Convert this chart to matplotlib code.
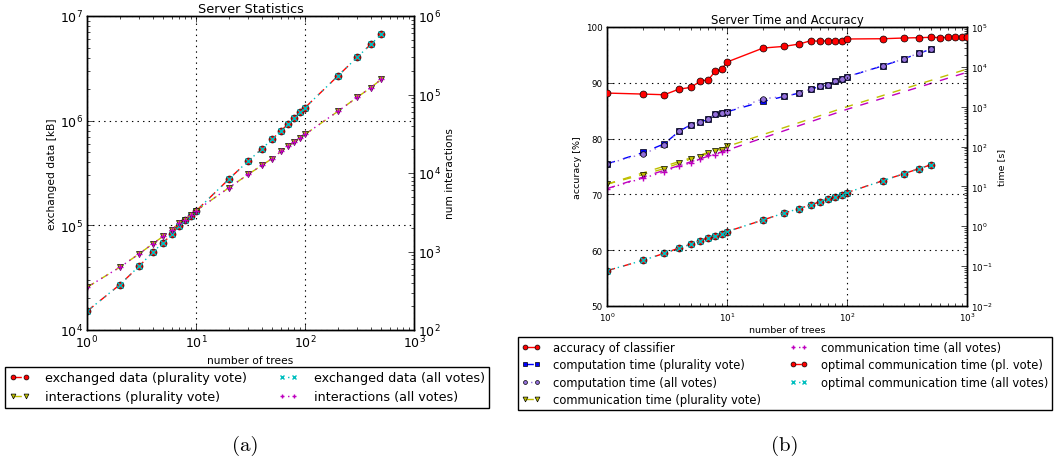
import matplotlib
matplotlib.use("Agg")
import matplotlib.pyplot as plt
from matplotlib.ticker import LogLocator, NullFormatter, FixedLocator

# ---- data: server statistics ----
trees = [1, 2, 3, 4, 5, 6, 7, 8, 9, 10, 20, 30, 40, 50, 60, 70, 80, 90, 100,
         200, 300, 400, 500]
exchanged_plurality = [1.51e4, 2.71e4, 4.06e4, 5.53e4, 6.84e4, 8.22e4, 9.96e4,
                       1.13e5, 1.24e5, 1.37e5, 2.76e5, 4.10e5, 5.35e5, 6.66e5,
                       8.00e5, 9.27e5, 1.065e6, 1.20e6, 1.33e6, 2.67e6, 4.02e6,
                       5.35e6, 6.67e6]
exchanged_all = [1.51e4, 2.71e4, 4.06e4, 5.53e4, 6.84e4, 8.22e4, 9.96e4,
                 1.13e5, 1.24e5, 1.37e5, 2.76e5, 4.10e5, 5.35e5, 6.66e5,
                 8.00e5, 9.27e5, 1.065e6, 1.20e6, 1.33e6, 2.67e6, 4.02e6,
                 5.35e6, 6.67e6]
interactions_plurality = [350, 630, 931, 1250, 1564, 1900, 2290, 2550, 2930,
                          3300, 6480, 9570, 12470, 15300, 18800, 21800, 24700,
                          27800, 31000, 60900, 91800, 122000, 155700]
interactions_all = [350, 630, 931, 1250, 1564, 1900, 2290, 2550, 2930,
                    3300, 6480, 9570, 12470, 15300, 18800, 21800, 24700,
                    27800, 31000, 60900, 91800, 122000, 155700]

# ---- data: server time and accuracy ----
acc_trees = trees + [600, 700, 800, 900, 1000]
accuracy = [88.16, 87.98, 87.86, 88.88, 89.17, 90.31, 90.55, 92.1, 92.4, 93.72,
            96.23, 96.53, 96.95, 97.55, 97.43, 97.55, 97.55, 97.43, 97.85,
            97.9, 98.03, 98.09, 98.15, 98.1, 98.13, 98.17, 98.13, 98.17]
comp_plurality = [36.8, 71, 117, 244, 352, 410, 488, 664, 690, 746, 1357, 1811,
                  2197, 2768, 3230, 3490, 4315, 4935, 5650, 10670, 16000,
                  22200, 27470]
comp_all = [36.8, 65.6, 108, 244, 352, 410, 488, 664, 690, 746, 1580, 1811,
            2197, 2768, 3230, 3490, 4315, 4935, 5650, 10670, 16000, 22200,
            27470]
comm_trees = trees[:10]
comm_plurality = [11.4, 19.9, 28.1, 38.3, 49.2, 56.3, 69.6, 78.2, 84.4, 100.5]
comm_all = [8.8, 16.1, 23.2, 33.4, 38.3, 49.2, 62, 62, 72.3, 81.3]
trend_trees = [1, 10, 100, 1000]
comm_plurality_trend = [11.4, 100, 1000, 8800]
comm_all_trend = [8.8, 81, 860, 7300]
opt_comm_plurality = [0.0769, 0.14, 0.21, 0.286, 0.353, 0.437, 0.519, 0.583,
                      0.641, 0.734, 1.44, 2.16, 2.78, 3.44, 4.17, 4.86, 5.46,
                      6.25, 7.0, 14.0, 21.0, 28.1, 34.8]
opt_comm_all = list(opt_comm_plurality)

# classic-looking dash patterns
plt.rcParams["lines.dashed_pattern"] = [6, 6]
plt.rcParams["lines.dotted_pattern"] = [1, 3]
plt.rcParams["lines.scale_dashes"] = False

W, H = 1057, 464
fig = plt.figure(figsize=(W / 100, H / 100), dpi=100)
fig.patch.set_facecolor("white")

RED = (1, 0, 0)
CYAN = (0, 0.75, 0.75)
YEL = (0.75, 0.75, 0)
MAG = (0.75, 0, 0.75)
BLUE = (0, 0, 1)
PURP = "#9370DB"


def style_axes(ax, twin, tick_fs):
    for a in (ax, twin):
        a.tick_params(which="both", direction="in", width=0.5,
                      labelsize=tick_fs, pad=3)
        a.tick_params(which="major", length=4)
        a.tick_params(which="minor", length=2)
        for s in a.spines.values():
            s.set_linewidth(1.0)
    ax.tick_params(axis="x", which="both", top=True)
    ax.tick_params(axis="y", which="both", right=False)
    twin.tick_params(axis="y", which="both", left=False, right=True)
    ax.grid(True, which="major", linestyle=":", color="k", linewidth=0.8)


def log_axis(axis):
    axis.set_major_locator(LogLocator(base=10, numticks=20))
    axis.set_minor_locator(LogLocator(base=10, subs=range(2, 10), numticks=20))
    axis.set_minor_formatter(NullFormatter())


# ================= left panel =================
ax1 = fig.add_axes([87 / W, 1 - 331 / H, 327 / W, 314 / H])
ax1b = ax1.twinx()
ax1.set_xscale("log")
ax1.set_yscale("log")
ax1b.set_yscale("log")
ax1.set_xlim(1, 1000)
ax1.set_ylim(1e4, 1e7)
ax1b.set_ylim(1e2, 1e6)
log_axis(ax1.xaxis)
log_axis(ax1.yaxis)
log_axis(ax1b.yaxis)

ms = 5
l1, = ax1.plot(trees, exchanged_plurality, "--o", color=RED, ms=ms, mec="k",
               mew=0.5, lw=1, label="exchanged data (plurality vote)")
l3, = ax1.plot(trees, exchanged_all, ":x", color=CYAN, ms=ms, mew=1, lw=1,
               label="exchanged data (all votes)")
l2, = ax1b.plot(trees, interactions_plurality, "--v", color=YEL, ms=ms,
                mec="k", mew=0.5, lw=1, label="interactions (plurality vote)")
l4, = ax1b.plot(trees, interactions_all, ":+", color=MAG, ms=ms, mew=1, lw=1,
                label="interactions (all votes)")

ax1.set_title("Server Statistics", fontsize=9.3, pad=3)
ax1.set_xlabel("number of trees", fontsize=7.7, labelpad=3)
ax1.set_ylabel("exchanged data [kB]", fontsize=7.7, labelpad=2)
ax1b.set_ylabel("num interactions", fontsize=7.7, labelpad=3)
style_axes(ax1, ax1b, 9)

leg1 = fig.legend([l1, l2, l3, l4], [h.get_label() for h in (l1, l2, l3, l4)],
                  ncol=2, loc="upper left",
                  bbox_to_anchor=(5 / W, 1 - 410 / H, 484 / W, 42 / H),
                  mode="expand", borderaxespad=0, fontsize=9.2, numpoints=2,
                  markerscale=0.7, fancybox=False, framealpha=1,
                  edgecolor="k", handlelength=1.6, handletextpad=1.2,
                  labelspacing=0.45, borderpad=0.35)
leg1.get_frame().set_linewidth(1.0)

# ================= right panel =================
ax2 = fig.add_axes([607 / W, 1 - 307 / H, 360 / W, 279 / H])
ax2b = ax2.twinx()
ax2.set_xscale("log")
ax2b.set_yscale("log")
ax2.set_xlim(1, 1000)
ax2.set_ylim(50, 100)
ax2b.set_ylim(1e-2, 1e5)
log_axis(ax2.xaxis)
log_axis(ax2b.yaxis)
ax2.yaxis.set_major_locator(FixedLocator([50, 60, 70, 80, 90, 100]))

r1, = ax2.plot(acc_trees, accuracy, "-o", color=RED, ms=ms, mec="k", mew=0.5,
               lw=1, label="accuracy of classifier", zorder=5)
ax2.set_zorder(ax2b.get_zorder() + 1)
ax2.patch.set_visible(False)
ax2b.plot(trend_trees, comm_plurality_trend, "--", color=YEL, lw=1)
ax2b.plot(trend_trees, comm_all_trend, "--", color=MAG, lw=1)
r2, = ax2b.plot(trees, comp_plurality, "--s", color=BLUE, ms=4.5, mec="k",
                mew=0.5, lw=1, label="computation time (plurality vote)")
r3, = ax2b.plot(trees, comp_all, ":o", color=PURP, ms=4, mec="k", mew=0.5,
                lw=1, label="computation time (all votes)")
r4, = ax2b.plot(comm_trees, comm_plurality, "--v", color=YEL, ms=ms, mec="k",
                mew=0.5, lw=1, label="communication time (plurality vote)")
r5, = ax2b.plot(comm_trees, comm_all, ":+", color=MAG, ms=ms, mew=1, lw=1,
                label="communication time (all votes)")
r6, = ax2b.plot(trees, opt_comm_plurality, "--o", color=RED, ms=ms, mec="k",
                mew=0.5, lw=1, label="optimal communication time (pl. vote)")
r7, = ax2b.plot(trees, opt_comm_all, ":x", color=CYAN, ms=ms, mew=1, lw=1,
                label="optimal communication time (all votes)")

ax2.set_title("Server Time and Accuracy", fontsize=8.4, pad=3)
ax2.set_xlabel("number of trees", fontsize=6.8, labelpad=2)
ax2.set_ylabel("accuracy [%]", fontsize=6.8, labelpad=3)
ax2b.set_ylabel("time [s]", fontsize=6.8, labelpad=3)
style_axes(ax2, ax2b, 6.3)

hs = [r1, r2, r3, r4, r5, r6, r7]
leg2 = fig.legend(hs, [h.get_label() for h in hs], ncol=2, loc="upper left",
                  bbox_to_anchor=(518 / W, 1 - 411 / H, 534 / W, 73 / H),
                  mode="expand", borderaxespad=0, fontsize=8.3, numpoints=2,
                  markerscale=0.7, fancybox=False, framealpha=1,
                  edgecolor="k", handlelength=1.6, handletextpad=1.1,
                  labelspacing=0.38, borderpad=0.35)
leg2.get_frame().set_linewidth(1.0)

# ---- sub-figure captions ----
fig.text(245 / W, 1 - 446 / H, "(a)", ha="center", va="center", fontsize=15,
         fontfamily="cmr10")
fig.text(785 / W, 1 - 446 / H, "(b)", ha="center", va="center", fontsize=15,
         fontfamily="cmr10")

fig.savefig("out.png", dpi=100, facecolor="white")
